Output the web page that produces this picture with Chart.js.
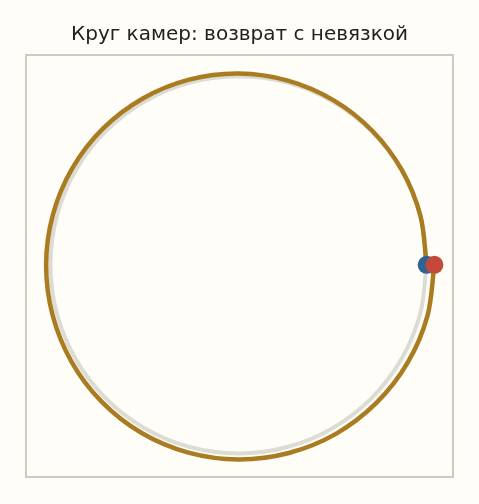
<!DOCTYPE html>
<html>
<head>
<meta charset="utf-8">
<script src="https://cdn.jsdelivr.net/npm/chart.js@4/dist/chart.umd.min.js"></script>
<style>
  body { margin: 0; background: #fffdf7; }
  #wrap { width: 479px; height: 504px; }
</style>
</head>
<body>
<div id="wrap"><canvas id="myChart" width="479" height="504"></canvas></div>
<script>
// camera ring, sampled every 15 degrees
const angleDeg = [0, 15, 30, 45, 60, 75, 90, 105, 120, 135, 150, 165, 180,
  195, 210, 225, 240, 255, 270, 285, 300, 315, 330, 345, 360];
const idealRadius = [1, 1, 1, 1, 1, 1, 1, 1, 1, 1, 1, 1, 1,
  1, 1, 1, 1, 1, 1, 1, 1, 1, 1, 1, 1];
// estimated track with accumulated drift
const trackRadius = [1.000, 1.001, 1.003, 1.005, 1.008, 1.011, 1.014, 1.016, 1.018,
  1.020, 1.021, 1.022, 1.023, 1.024, 1.026, 1.028, 1.030, 1.031, 1.032,
  1.033, 1.035, 1.036, 1.038, 1.040, 1.041];

const titleText = "Круг камер: возврат с невязкой";

const toXY = (radii) =>
  radii.map((r, i) => {
    const a = (angleDeg[i] * Math.PI) / 180;
    return { x: r * Math.cos(a), y: r * Math.sin(a) };
  });

const ideal = toXY(idealRadius);
const track = toXY(trackRadius);
const startPt = [track[0]];
const endPt = [track[track.length - 1]];

const frame = {
  id: "frame",
  afterDraw(chart) {
    const { ctx, chartArea: a } = chart;
    ctx.save();
    ctx.strokeStyle = "#cbcbc3";
    ctx.lineWidth = 2;
    ctx.strokeRect(a.left, a.top, a.right - a.left, a.bottom - a.top);
    ctx.restore();
  },
};

const bg = {
  id: "bg",
  beforeDraw(chart) {
    const ctx = chart.ctx;
    ctx.save();
    ctx.fillStyle = "#fffdf7";
    ctx.fillRect(0, 0, chart.width, chart.height);
    ctx.restore();
  },
};

// tension close to a true circular arc for 15 degree steps
const ringTension = 0.335;

new Chart(document.getElementById("myChart"), {
  type: "scatter",
  data: {
    datasets: [
      {
        label: "Идеальный круг",
        data: ideal,
        showLine: true,
        borderColor: "#dcdcd4",
        borderWidth: 4,
        pointRadius: 0,
        tension: ringTension,
        order: 4,
      },
      {
        label: "Траектория",
        data: track,
        showLine: true,
        borderColor: "#a97c22",
        borderWidth: 4.5,
        pointRadius: 0,
        tension: ringTension,
        order: 3,
      },
      {
        label: "Старт",
        data: startPt,
        pointRadius: 9,
        pointBackgroundColor: "#2f6394",
        pointBorderWidth: 0,
        order: 2,
      },
      {
        label: "Финиш",
        data: endPt,
        pointRadius: 9,
        pointBackgroundColor: "#c34a3b",
        pointBorderWidth: 0,
        order: 1,
      },
    ],
  },
  options: {
    responsive: false,
    devicePixelRatio: 1,
    animation: false,
    layout: { padding: { left: 26, right: 26, top: 0, bottom: 27 } },
    plugins: {
      legend: { display: false },
      tooltip: { enabled: false },
      title: {
        display: true,
        text: titleText,
        color: "#222222",
        font: { family: "DejaVu Sans", size: 20, weight: "normal" },
        padding: { top: 23, bottom: 8 },
      },
    },
    scales: {
      x: { display: false, min: -1.13, max: 1.14 },
      y: { display: false, min: -1.125, max: 1.112 },
    },
  },
  plugins: [bg, frame],
});
</script>
</body>
</html>
